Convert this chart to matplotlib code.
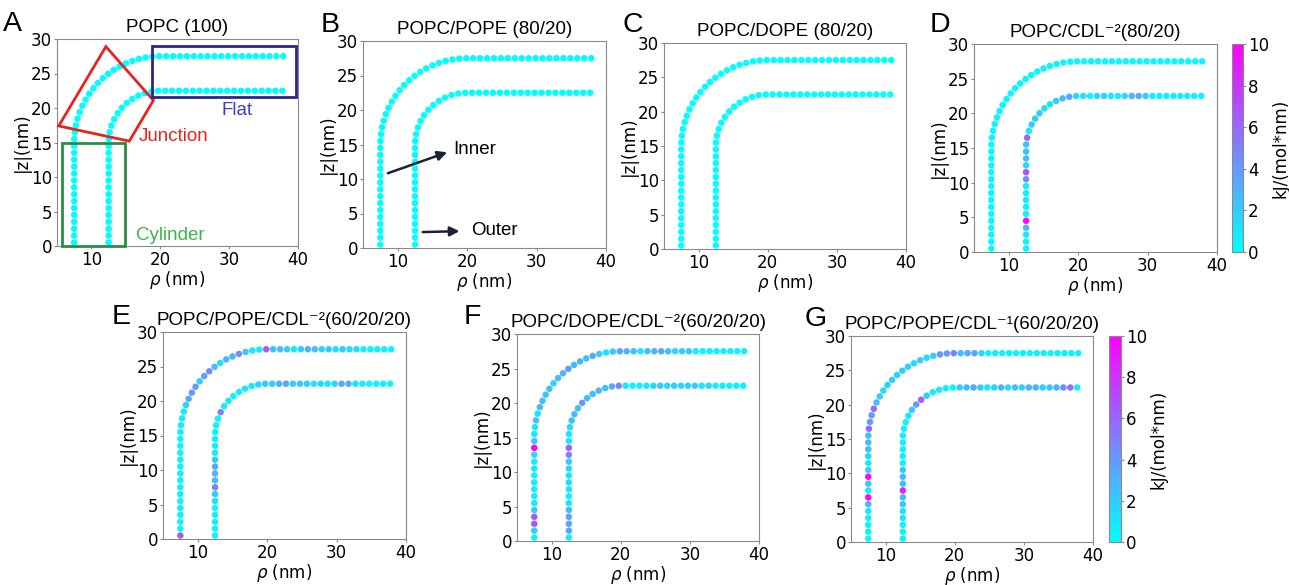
import numpy as np
import matplotlib
matplotlib.use("Agg")
import matplotlib.pyplot as plt
from matplotlib.patches import Polygon, Rectangle

# ---------------------------------------------------------------------------
# Membrane contour: a cylinder (rho = const) joined to a flat bilayer
# (z = const) through a quarter-torus bend.  Energies are binned every 1 nm
# of arc length along each leaflet.
# ---------------------------------------------------------------------------
BIN_NM = 1.0          # bin width along the contour
CYL_TOP = 15.0        # z where the cylinder turns into the bend
BEND_RHO = 20.0       # rho of the bend centre
INNER_RHO = 7.5       # cylinder radius of the inner leaflet
OUTER_RHO = 12.5      # cylinder radius of the outer leaflet
N_INNER = 53          # bins along the inner leaflet
N_OUTER = 45          # bins along the outer leaflet

# Line tension / energy density per bin, kJ/(mol*nm), listed from the bottom
# of the cylinder along the bend and out across the flat region.
popc_inner = [0.0] * N_INNER
popc_outer = [0.0] * N_OUTER
popc_pope_inner = [0.0] * N_INNER
popc_pope_outer = [0.0] * N_OUTER
popc_dope_inner = [0.0] * N_INNER
popc_dope_outer = [0.0] * N_OUTER

popc_cdl2_inner = [0.3] * N_INNER
popc_cdl2_outer = [0.5, 0.5, 0.5, 3.0, 9.5, 0.5, 0.5, 0.5, 0.5, 0.8,
                   4.5, 6.5, 1.5, 2.5, 2.5, 2.5, 6.0,
                   1.0, 2.0, 2.0, 2.0, 1.5, 1.0, 2.0, 3.0, 3.5, 1.5,
                   1.0, 0.5, 1.5, 2.0, 0.8, 0.8, 1.5, 3.0, 3.5, 2.0,
                   0.8, 0.5, 0.5, 0.5, 0.5, 0.5, 0.5, 0.5]

popc_pope_cdl2_inner = [6.5, 0.5, 0.5, 0.5, 0.5, 0.5, 0.5, 0.5, 0.5, 0.5,
                        0.5, 0.5, 0.5, 0.5, 0.5, 0.5, 0.5,
                        0.8, 1.0, 1.8, 3.5, 4.0, 4.0, 2.0, 3.5, 4.5, 2.5,
                        1.5, 3.0, 3.0, 4.5, 2.0, 1.0,
                        0.8, 6.5, 2.5, 2.5, 2.0, 0.8, 2.0, 3.0, 2.5, 2.0,
                        2.0, 1.2, 2.0, 1.5, 1.5, 0.5, 0.5, 0.5, 0.5, 0.5]
popc_pope_cdl2_outer = [0.5, 0.5, 0.5, 0.5, 0.5, 1.0, 2.0, 5.0, 2.5, 3.0,
                        3.5, 2.0, 0.8, 0.5, 0.5, 0.5, 0.5,
                        0.5, 5.0, 0.8, 1.0, 0.5, 0.8, 0.8, 0.8, 1.5,
                        2.0, 2.0, 3.0, 3.5, 2.0, 2.0, 2.0, 0.8, 1.5, 0.8,
                        1.5, 3.5, 3.5, 1.2, 0.5, 0.5, 0.5, 0.5, 0.5]

popc_dope_cdl2_inner = [0.5, 2.0, 6.5, 6.5, 2.0, 0.8, 0.5, 0.5, 0.5, 0.5,
                        1.0, 0.5, 1.5, 10.0, 2.0, 0.8, 0.8,
                        2.5, 1.0, 2.5, 2.5, 2.0, 2.5, 2.0, 2.5, 3.0, 4.0,
                        3.0, 3.0, 2.5, 3.5, 2.0, 1.0,
                        2.0, 3.5, 3.0, 2.5, 1.0, 2.5, 3.0, 3.5, 2.5, 1.5,
                        2.0, 2.0, 0.8, 0.5, 0.5, 0.5, 0.5, 0.5, 0.5, 0.5]
popc_dope_cdl2_outer = [0.5, 3.5, 3.5, 3.5, 2.5, 1.0, 0.5, 1.0, 1.5, 1.0,
                        1.5, 2.0, 5.0, 6.0, 0.8, 0.8, 1.5,
                        2.5, 2.5, 2.5, 4.0, 2.5, 2.5, 3.0, 2.5, 3.5, 5.0,
                        1.0, 0.5, 0.5, 1.0, 1.5, 2.0, 1.5, 2.0, 1.5, 2.0,
                        2.0, 0.8, 1.5, 0.5, 0.5, 0.5, 0.5, 0.5]

popc_pope_cdl1_inner = [0.5, 0.5, 0.5, 0.5, 0.8, 3.0, 9.5, 0.8, 2.0, 9.5,
                        2.0, 0.8, 1.5, 2.5, 2.5, 2.5, 6.0,
                        4.0, 4.0, 6.0, 2.5, 2.0, 1.5, 2.0, 2.0, 2.0, 2.0,
                        2.0, 1.5, 2.0, 1.5, 2.0, 4.0,
                        4.0, 5.0, 2.5, 3.5, 3.5, 1.5, 0.5, 0.5, 0.5, 0.5,
                        0.5, 0.5, 0.5, 0.5, 0.5, 0.5, 0.5, 0.5, 0.5, 0.5]
popc_pope_cdl1_outer = [0.5, 0.5, 0.5, 1.0, 1.0, 2.0, 2.5, 8.5, 2.5, 2.5,
                        2.0, 0.5, 0.5, 0.5, 0.5, 0.5, 0.5,
                        0.5, 1.0, 2.0, 4.0, 6.5, 2.0, 0.5, 0.5, 0.5,
                        0.5, 2.0, 2.5, 3.5, 2.0, 0.8, 2.0, 3.0, 1.5, 2.5,
                        2.0, 3.0, 3.0, 2.0, 2.0, 3.0, 4.5, 5.5, 0.5]

titles = ["POPC (100)", "POPC/POPE (80/20)", "POPC/DOPE (80/20)",
          "POPC/CDL\u207b\u00b2(80/20)", "POPC/POPE/CDL\u207b\u00b2(60/20/20)",
          "POPC/DOPE/CDL\u207b\u00b2(60/20/20)",
          "POPC/POPE/CDL\u207b\u00b9(60/20/20)"]
letters = ["A", "B", "C", "D", "E", "F", "G"]
energies = [(popc_inner, popc_outer),
            (popc_pope_inner, popc_pope_outer),
            (popc_dope_inner, popc_dope_outer),
            (popc_cdl2_inner, popc_cdl2_outer),
            (popc_pope_cdl2_inner, popc_pope_cdl2_outer),
            (popc_dope_cdl2_inner, popc_dope_cdl2_outer),
            (popc_pope_cdl1_inner, popc_pope_cdl1_outer)]

x_ticks = [10, 20, 30, 40]
y_ticks = [0, 5, 10, 15, 20, 25, 30]
cbar_ticks = [0, 2, 4, 6, 8, 10]
E_MIN, E_MAX = 0.0, 10.0


def leaflet_path(rho_wall, n):
    """Bin centres along cylinder -> quarter bend -> flat sheet."""
    radius = BEND_RHO - rho_wall
    arc = 0.5 * np.pi * radius
    s = (np.arange(n) + 0.5) * BIN_NM
    theta = np.clip((s - CYL_TOP) / radius, 0.0, 0.5 * np.pi)
    rho = np.where(s < CYL_TOP, rho_wall,
                   np.where(s < CYL_TOP + arc,
                            BEND_RHO - radius * np.cos(theta),
                            BEND_RHO + (s - CYL_TOP - arc)))
    z = np.where(s < CYL_TOP, s,
                 np.where(s < CYL_TOP + arc,
                          CYL_TOP + radius * np.sin(theta),
                          CYL_TOP + radius))
    return rho, z


W, H = 1289, 585
fig = plt.figure(figsize=(W / 100, H / 100), dpi=100)

SANS = ["Liberation Sans", "DejaVu Sans"]
TICK_FS = 12
FRAME = "#8a8a8a"


def px_axes(l, t, r, b):
    return fig.add_axes([l / W, 1 - b / H, (r - l) / W, (b - t) / H])


boxes = [(57, 39, 298, 246), (363, 41, 606, 248), (664, 43, 906, 249),
         (974, 44, 1217, 252), (163, 332, 406, 539), (517, 334, 759, 541),
         (851, 336, 1093, 542)]
letter_pos = [(3, 31), (321, 32), (623, 32), (930, 32),
              (112, 324), (464, 324), (805, 326)]

inner_rho, inner_z = leaflet_path(INNER_RHO, N_INNER)
outer_rho, outer_z = leaflet_path(OUTER_RHO, N_OUTER)

axes = []
scatters = []
for i, (box, title, (e_in, e_out)) in enumerate(zip(boxes, titles, energies)):
    ax = px_axes(*box)
    sc = None
    for rr, zz, ee in ((inner_rho, inner_z, e_in), (outer_rho, outer_z, e_out)):
        sc = ax.scatter(rr, zz, c=ee, cmap="cool", vmin=E_MIN, vmax=E_MAX,
                        s=22, linewidths=0, zorder=3)
    ax.set_xlim(5, 40)
    ax.set_ylim(0, 30)
    ax.set_xticks(x_ticks)
    ax.set_yticks(y_ticks)
    ax.tick_params(labelsize=TICK_FS, length=2.5, color=FRAME, pad=1)
    for sp in ax.spines.values():
        sp.set_color(FRAME)
    ax.set_xlabel(r"$\rho$ (nm)", fontsize=TICK_FS, labelpad=0)
    ax.set_ylabel("|z|(nm)", fontsize=TICK_FS, labelpad=0)
    ax.set_title(title, fontsize=13.5, family=SANS, pad=5)
    axes.append(ax)
    scatters.append(sc)

for letter, (lx, ly) in zip(letters, letter_pos):
    fig.text(lx / W, 1 - ly / H, letter, fontsize=20.5, family=SANS,
             ha="left", va="baseline")

# Colour bars next to panels D and G
for ax_idx, cbox in ((3, (1232, 44, 1243, 252)), (6, (1109, 336, 1121, 542))):
    cax = px_axes(*cbox)
    cb = fig.colorbar(scatters[ax_idx], cax=cax, ticks=cbar_ticks)
    cb.outline.set_edgecolor(FRAME)
    cb.ax.tick_params(labelsize=TICK_FS, length=2.5, color=FRAME, pad=1)
    cb.set_label("kJ/(mol*nm)", fontsize=TICK_FS, labelpad=2)

# Region outlines in panel A
axA = axes[0]
red, navy, green = "#e8231f", "#27278a", "#2e8b46"
axA.add_patch(Polygon([(12.1, 28.9), (19.0, 21.1), (15.5, 15.2), (5.25, 17.4)],
                      closed=True, fill=False, edgecolor=red, lw=2,
                      clip_on=False, zorder=4))
axA.add_patch(Rectangle((18.8, 21.6), 20.9, 7.4, fill=False, edgecolor=navy,
                        lw=2, clip_on=False, zorder=4))
axA.add_patch(Rectangle((5.7, 0.05), 9.2, 14.85, fill=False, edgecolor=green,
                        lw=2, clip_on=False, zorder=4))
axA.text(31.1, 19.7, "Flat", color="#3b3bd6", fontsize=13.5, family=SANS,
         ha="center", va="center")
axA.text(21.9, 15.8, "Junction", color=red, fontsize=13.5, family=SANS,
         ha="center", va="center")
axA.text(21.4, 1.5, "Cylinder", color="#3cb44b", fontsize=13.5, family=SANS,
         ha="center", va="center")

# Leaflet labels in panel B
axB = axes[1]
arrow_kw = dict(arrowstyle="-|>", color="#1c2135", lw=1.8, mutation_scale=14)
axB.annotate("", xy=(17.5, 14.0), xytext=(8.2, 10.7), arrowprops=arrow_kw,
             zorder=5)
axB.text(18.0, 14.3, "Inner", fontsize=13.5, family=SANS, ha="left",
         va="center")
axB.annotate("", xy=(19.3, 2.45), xytext=(13.2, 2.3), arrowprops=arrow_kw,
             zorder=5)
axB.text(20.6, 2.6, "Outer", fontsize=13.5, family=SANS, ha="left",
         va="center")

fig.savefig("out.png", dpi=100)
